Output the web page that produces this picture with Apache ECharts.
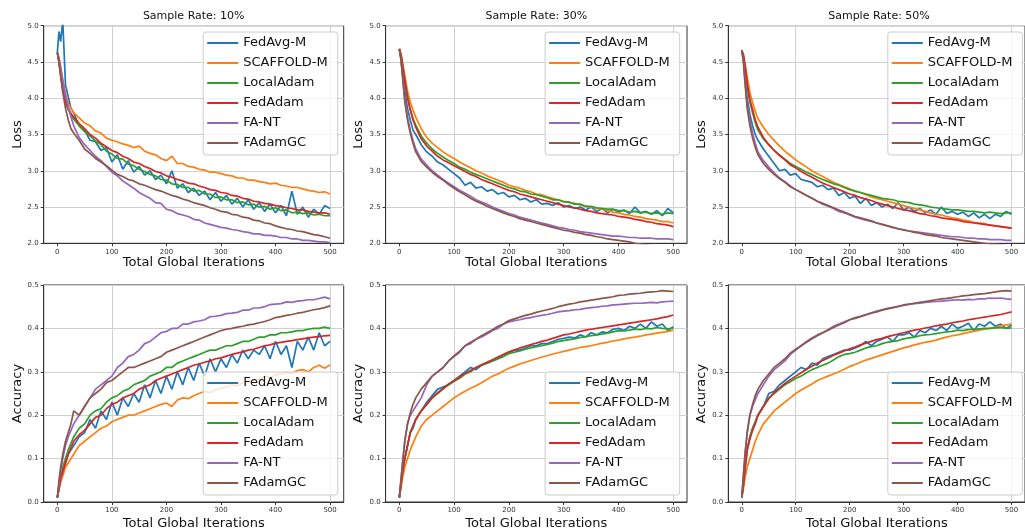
<!DOCTYPE html>
<html>
<head>
<meta charset="utf-8">
<script src="https://cdn.jsdelivr.net/npm/echarts@6/dist/echarts.min.js"></script>
<style>
  html, body { margin: 0; padding: 0; background: #fff; }
  #main { width: 1025px; height: 531px; }
</style>
</head>
<body>
<div id="main"></div>
<script>
// 数据: 迭代次数 (x) 及各算法曲线
var iterations = [0, 3, 6, 10, 15, 20, 25, 30, 40,
  50, 60, 70, 80, 90, 100,
  110, 120, 130, 140, 150, 160, 170, 180, 190, 200,
  210, 220, 230, 240, 250, 260, 270, 280, 290, 300,
  310, 320, 330, 340, 350, 360, 370, 380, 390, 400,
  410, 420, 430, 440, 450, 460, 470, 480, 490, 500];

var algoNames = ["FedAvg-M", "SCAFFOLD-M", "LocalAdam", "FedAdam", "FA-NT", "FAdamGC"];
var rateTitles = ["Sample Rate: 10%", "Sample Rate: 30%", "Sample Rate: 50%"];
var xTicks = [0, 100, 200, 300, 400, 500];

// ---- Loss, 10% ----
var loss10_fedavg = [4.63, 4.92, 4.78, 5.06, 4.18, 4.02, 3.86, 3.8, 3.62,
  3.56, 3.42, 3.4, 3.28, 3.32, 3.12,
  3.22, 3.02, 3.14, 2.98, 3.06, 2.94, 3.0, 2.88, 2.94, 2.82,
  3.0, 2.76, 2.82, 2.7, 2.76, 2.66, 2.72, 2.6, 2.7, 2.58,
  2.66, 2.54, 2.62, 2.5, 2.6, 2.47, 2.56, 2.44, 2.54, 2.42,
  2.52, 2.38, 2.72, 2.4, 2.5, 2.36, 2.47, 2.4, 2.52, 2.48];
var loss10_scaffold = [4.63, 4.56, 4.44, 4.26, 4.06, 3.93, 3.86, 3.8, 3.73,
  3.66, 3.62, 3.55, 3.52, 3.45, 3.42,
  3.4, 3.37, 3.35, 3.32, 3.34, 3.27, 3.24, 3.22, 3.17, 3.14,
  3.2, 3.1, 3.1, 3.06, 3.05, 3.02, 3.01, 2.98, 2.98, 2.96,
  2.94, 2.93, 2.9, 2.9, 2.87, 2.87, 2.85, 2.84, 2.82, 2.83,
  2.8, 2.79, 2.77, 2.77, 2.75, 2.73, 2.72, 2.7, 2.71, 2.68];
var loss10_local = [4.63, 4.5, 4.34, 4.12, 3.94, 3.84, 3.78, 3.71, 3.62,
  3.54, 3.48, 3.41, 3.36, 3.27, 3.23,
  3.17, 3.16, 3.09, 3.07, 3.02, 2.99, 2.95, 2.93, 2.88, 2.87,
  2.82, 2.81, 2.77, 2.77, 2.72, 2.73, 2.68, 2.68, 2.63, 2.64,
  2.6, 2.6, 2.56, 2.57, 2.53, 2.54, 2.5, 2.51, 2.47, 2.49,
  2.45, 2.46, 2.42, 2.43, 2.41, 2.42, 2.39, 2.4, 2.38, 2.38];
var loss10_fedadam = [4.63, 4.5, 4.34, 4.13, 3.95, 3.86, 3.79, 3.74, 3.65,
  3.58, 3.5, 3.45, 3.38, 3.33, 3.28,
  3.25, 3.2, 3.17, 3.12, 3.1, 3.06, 3.03, 2.99, 2.97, 2.93,
  2.91, 2.88, 2.86, 2.83, 2.82, 2.79, 2.77, 2.74, 2.73, 2.7,
  2.69, 2.66, 2.65, 2.62, 2.61, 2.58, 2.57, 2.55, 2.54, 2.52,
  2.51, 2.49, 2.48, 2.46, 2.46, 2.44, 2.43, 2.42, 2.42, 2.4];
var loss10_fant = [4.63, 4.55, 4.42, 4.24, 4.03, 3.88, 3.74, 3.62, 3.46,
  3.36, 3.28, 3.2, 3.14, 3.06, 2.98,
  2.93, 2.86, 2.81, 2.76, 2.7, 2.66, 2.62, 2.56, 2.55, 2.47,
  2.45, 2.41, 2.39, 2.37, 2.33, 2.32, 2.28, 2.26, 2.24, 2.22,
  2.21, 2.19, 2.18, 2.16, 2.15, 2.13, 2.13, 2.11, 2.11, 2.1,
  2.08, 2.08, 2.06, 2.06, 2.04, 2.04, 2.03, 2.02, 2.02, 2.01];
var loss10_fadamgc = [4.63, 4.5, 4.3, 4.08, 3.86, 3.7, 3.58, 3.52, 3.42,
  3.3, 3.24, 3.17, 3.12, 3.07, 3.01,
  2.95, 2.92, 2.88, 2.86, 2.82, 2.8, 2.77, 2.74, 2.72, 2.69,
  2.66, 2.64, 2.61, 2.59, 2.56, 2.54, 2.52, 2.49, 2.47, 2.44,
  2.43, 2.4, 2.39, 2.36, 2.35, 2.32, 2.31, 2.28, 2.27, 2.24,
  2.22, 2.2, 2.19, 2.17, 2.16, 2.14, 2.12, 2.11, 2.09, 2.07];

// ---- Loss, 30% ----
var loss30_fedavg = [4.68, 4.55, 4.35, 4.1, 3.86, 3.7, 3.56, 3.5, 3.36,
  3.26, 3.2, 3.12, 3.08, 3.02, 2.96,
  2.9, 2.8, 2.84, 2.76, 2.78, 2.72, 2.74, 2.68, 2.7, 2.64,
  2.66, 2.6, 2.62, 2.57, 2.6, 2.54, 2.55, 2.52, 2.56, 2.5,
  2.52, 2.48, 2.5, 2.46, 2.5, 2.44, 2.48, 2.42, 2.47, 2.43,
  2.46, 2.41, 2.5, 2.42, 2.44, 2.4, 2.45, 2.38, 2.48, 2.42];
var loss30_scaffold = [4.68, 4.62, 4.5, 4.32, 4.1, 3.95, 3.84, 3.74, 3.58,
  3.46, 3.38, 3.32, 3.26, 3.21, 3.17,
  3.12, 3.08, 3.04, 3.0, 2.97, 2.93, 2.9, 2.87, 2.84, 2.8,
  2.78, 2.76, 2.73, 2.71, 2.68, 2.67, 2.64, 2.62, 2.6, 2.58,
  2.56, 2.55, 2.53, 2.51, 2.5, 2.48, 2.47, 2.45, 2.43, 2.42,
  2.4, 2.39, 2.37, 2.36, 2.34, 2.33, 2.32, 2.3, 2.3, 2.28];
var loss30_local = [4.68, 4.6, 4.45, 4.25, 4.02, 3.85, 3.72, 3.63, 3.48,
  3.38, 3.3, 3.24, 3.19, 3.14, 3.1,
  3.05, 3.02, 2.98, 2.95, 2.92, 2.89, 2.86, 2.83, 2.8, 2.77,
  2.75, 2.72, 2.71, 2.68, 2.67, 2.65, 2.63, 2.6, 2.6, 2.57,
  2.57, 2.54, 2.54, 2.51, 2.51, 2.49, 2.48, 2.47, 2.47, 2.45,
  2.45, 2.43, 2.44, 2.42, 2.43, 2.41, 2.42, 2.4, 2.42, 2.41];
var loss30_fedadam = [4.68, 4.6, 4.45, 4.24, 4.0, 3.84, 3.7, 3.6, 3.44,
  3.34, 3.27, 3.2, 3.15, 3.11, 3.07,
  3.03, 2.99, 2.95, 2.92, 2.88, 2.85, 2.82, 2.79, 2.76, 2.73,
  2.71, 2.68, 2.66, 2.64, 2.62, 2.6, 2.58, 2.56, 2.54, 2.52,
  2.5, 2.49, 2.47, 2.45, 2.44, 2.42, 2.41, 2.4, 2.39, 2.37,
  2.36, 2.35, 2.33, 2.32, 2.3, 2.29, 2.27, 2.26, 2.25, 2.23];
var loss30_fant = [4.68, 4.55, 4.32, 4.0, 3.74, 3.56, 3.42, 3.3, 3.16,
  3.08, 3.0, 2.94, 2.88, 2.83, 2.78,
  2.73, 2.69, 2.65, 2.6, 2.57, 2.54, 2.5, 2.47, 2.44, 2.41,
  2.39, 2.36, 2.34, 2.32, 2.3, 2.28, 2.26, 2.24, 2.22, 2.21,
  2.19, 2.18, 2.16, 2.15, 2.14, 2.13, 2.12, 2.11, 2.1, 2.1,
  2.09, 2.08, 2.08, 2.07, 2.07, 2.07, 2.06, 2.06, 2.06, 2.05];
var loss30_fadamgc = [4.68, 4.53, 4.28, 3.95, 3.7, 3.52, 3.38, 3.26, 3.13,
  3.05, 2.98, 2.92, 2.87, 2.81, 2.76,
  2.71, 2.67, 2.62, 2.58, 2.55, 2.51, 2.48, 2.45, 2.42, 2.39,
  2.37, 2.34, 2.32, 2.3, 2.28, 2.26, 2.24, 2.22, 2.2, 2.18,
  2.17, 2.15, 2.14, 2.12, 2.11, 2.09, 2.08, 2.06, 2.05, 2.04,
  2.03, 2.02, 2.0, 1.99, 1.98, 1.97, 1.96, 1.95, 1.94, 1.93];

// ---- Loss, 50% ----
var loss50_fedavg = [4.66, 4.55, 4.3, 4.0, 3.78, 3.62, 3.5, 3.42, 3.3,
  3.2, 3.1, 3.0, 3.02, 2.94, 2.96,
  2.88, 2.86, 2.84, 2.78, 2.8, 2.74, 2.76, 2.66, 2.7, 2.62,
  2.65, 2.55, 2.62, 2.52, 2.56, 2.5, 2.54, 2.48, 2.56, 2.46,
  2.5, 2.44, 2.48, 2.42, 2.46, 2.4, 2.5, 2.41, 2.44, 2.4,
  2.43, 2.37, 2.42, 2.35, 2.4, 2.34, 2.4, 2.37, 2.44, 2.4];
var loss50_scaffold = [4.66, 4.6, 4.48, 4.3, 4.08, 3.94, 3.82, 3.72, 3.6,
  3.5, 3.42, 3.34, 3.27, 3.21, 3.15,
  3.1, 3.05, 3.0, 2.96, 2.92, 2.88, 2.84, 2.81, 2.78, 2.75,
  2.72, 2.7, 2.67, 2.64, 2.62, 2.6, 2.58, 2.56, 2.54, 2.52,
  2.5, 2.48, 2.46, 2.44, 2.42, 2.4, 2.39, 2.37, 2.35, 2.34,
  2.32, 2.31, 2.29, 2.28, 2.27, 2.25, 2.24, 2.23, 2.22, 2.21];
var loss50_local = [4.66, 4.58, 4.42, 4.15, 3.95, 3.8, 3.66, 3.56, 3.44,
  3.36, 3.28, 3.22, 3.16, 3.1, 3.06,
  3.02, 2.98, 2.95, 2.91, 2.88, 2.85, 2.82, 2.8, 2.77, 2.74,
  2.72, 2.7, 2.68, 2.66, 2.64, 2.62, 2.61, 2.6, 2.58, 2.57,
  2.56, 2.54, 2.53, 2.52, 2.5, 2.49, 2.48, 2.47, 2.46, 2.46,
  2.45, 2.44, 2.44, 2.43, 2.42, 2.43, 2.42, 2.41, 2.42, 2.42];
var loss50_fedadam = [4.66, 4.6, 4.45, 4.2, 3.98, 3.84, 3.7, 3.6, 3.46,
  3.36, 3.28, 3.21, 3.15, 3.08, 3.04,
  2.99, 2.95, 2.91, 2.87, 2.83, 2.8, 2.77, 2.74, 2.71, 2.68,
  2.66, 2.63, 2.61, 2.59, 2.56, 2.54, 2.52, 2.5, 2.48, 2.46,
  2.45, 2.43, 2.41, 2.4, 2.38, 2.37, 2.35, 2.34, 2.33, 2.32,
  2.3, 2.29, 2.28, 2.27, 2.26, 2.25, 2.24, 2.23, 2.22, 2.21];
var loss50_fant = [4.66, 4.52, 4.25, 3.92, 3.7, 3.52, 3.38, 3.26, 3.14,
  3.05, 2.97, 2.9, 2.85, 2.79, 2.74,
  2.7, 2.66, 2.62, 2.58, 2.54, 2.51, 2.48, 2.44, 2.42, 2.39,
  2.36, 2.34, 2.32, 2.3, 2.28, 2.26, 2.24, 2.22, 2.2, 2.19,
  2.17, 2.16, 2.15, 2.14, 2.13, 2.12, 2.11, 2.1, 2.09, 2.09,
  2.08, 2.07, 2.07, 2.06, 2.06, 2.05, 2.05, 2.05, 2.04, 2.04];
var loss50_fadamgc = [4.66, 4.5, 4.2, 3.86, 3.62, 3.45, 3.32, 3.22, 3.1,
  3.02, 2.95, 2.89, 2.84, 2.78, 2.74,
  2.7, 2.66, 2.62, 2.58, 2.55, 2.52, 2.49, 2.46, 2.43, 2.4,
  2.37, 2.35, 2.33, 2.31, 2.28, 2.26, 2.24, 2.22, 2.2, 2.18,
  2.17, 2.15, 2.14, 2.12, 2.11, 2.1, 2.08, 2.07, 2.06, 2.05,
  2.04, 2.03, 2.02, 2.01, 2.0, 1.99, 1.99, 1.98, 1.97, 1.96];

// ---- Accuracy, 10% ----
var acc10_fedavg = [0.01, 0.03, 0.05, 0.07, 0.09, 0.11, 0.12, 0.13, 0.15,
  0.16, 0.19, 0.17, 0.21, 0.19, 0.23,
  0.2, 0.24, 0.22, 0.25, 0.23, 0.27, 0.24, 0.28, 0.25, 0.29,
  0.26, 0.3, 0.27, 0.31, 0.28, 0.32, 0.29, 0.33, 0.3, 0.33,
  0.31, 0.34, 0.32, 0.35, 0.33, 0.35, 0.34, 0.36, 0.33, 0.37,
  0.34, 0.36, 0.31, 0.37, 0.35, 0.38, 0.35, 0.39, 0.36, 0.37];
var acc10_scaffold = [0.01, 0.03, 0.045, 0.06, 0.08, 0.09, 0.1, 0.11, 0.13,
  0.14, 0.15, 0.16, 0.17, 0.175, 0.185,
  0.19, 0.195, 0.2, 0.2, 0.205, 0.21, 0.215, 0.22, 0.225, 0.228,
  0.22, 0.235, 0.24, 0.238, 0.245, 0.25, 0.255, 0.252, 0.258, 0.262,
  0.265, 0.27, 0.268, 0.275, 0.277, 0.28, 0.283, 0.29, 0.286, 0.293,
  0.295, 0.298, 0.296, 0.303, 0.305, 0.3, 0.31, 0.315, 0.308, 0.316];
var acc10_local = [0.01, 0.035, 0.06, 0.08, 0.1, 0.12, 0.135, 0.15, 0.17,
  0.18, 0.2, 0.21, 0.215, 0.23, 0.24,
  0.245, 0.255, 0.26, 0.27, 0.275, 0.28, 0.29, 0.295, 0.3, 0.31,
  0.31, 0.32, 0.325, 0.33, 0.335, 0.34, 0.345, 0.35, 0.35, 0.355,
  0.36, 0.36, 0.365, 0.37, 0.37, 0.375, 0.38, 0.38, 0.385, 0.385,
  0.39, 0.39, 0.392, 0.395, 0.395, 0.398, 0.4, 0.4, 0.403, 0.4];
var acc10_fedadam = [0.01, 0.03, 0.055, 0.07, 0.09, 0.11, 0.125, 0.14, 0.155,
  0.165, 0.18, 0.195, 0.2, 0.215, 0.225,
  0.23, 0.24, 0.245, 0.25, 0.26, 0.265, 0.27, 0.28, 0.285, 0.29,
  0.295, 0.3, 0.305, 0.31, 0.315, 0.318, 0.322, 0.325, 0.33, 0.332,
  0.336, 0.34, 0.343, 0.346, 0.35, 0.352, 0.356, 0.36, 0.362, 0.366,
  0.368, 0.37, 0.372, 0.374, 0.376, 0.378, 0.38, 0.381, 0.383, 0.384];
var acc10_fant = [0.01, 0.04, 0.07, 0.1, 0.13, 0.15, 0.165, 0.18, 0.2,
  0.22, 0.24, 0.26, 0.27, 0.28, 0.29,
  0.31, 0.32, 0.335, 0.34, 0.35, 0.365, 0.37, 0.38, 0.39, 0.393,
  0.4, 0.4, 0.41, 0.41, 0.415, 0.417, 0.42, 0.427, 0.428, 0.43,
  0.434, 0.435, 0.437, 0.442, 0.442, 0.447, 0.447, 0.45, 0.455, 0.456,
  0.457, 0.461, 0.46, 0.463, 0.464, 0.466, 0.466, 0.469, 0.472, 0.468];
var acc10_fadamgc = [0.01, 0.05, 0.08, 0.11, 0.14, 0.16, 0.18, 0.21, 0.2,
  0.22, 0.24, 0.25, 0.26, 0.275, 0.28,
  0.29, 0.3, 0.31, 0.31, 0.315, 0.32, 0.325, 0.33, 0.335, 0.345,
  0.35, 0.355, 0.36, 0.365, 0.37, 0.375, 0.38, 0.385, 0.39, 0.395,
  0.398, 0.4, 0.403, 0.405, 0.408, 0.41, 0.413, 0.416, 0.42, 0.425,
  0.427, 0.43, 0.432, 0.435, 0.437, 0.44, 0.443, 0.445, 0.448, 0.452];

// ---- Accuracy, 30% ----
var acc30_fedavg = [0.01, 0.04, 0.07, 0.1, 0.13, 0.16, 0.17, 0.19, 0.21,
  0.23, 0.245, 0.26, 0.265, 0.27, 0.28,
  0.29, 0.3, 0.31, 0.305, 0.315, 0.32, 0.325, 0.33, 0.34, 0.345,
  0.35, 0.35, 0.355, 0.36, 0.36, 0.365, 0.365, 0.37, 0.375, 0.377,
  0.38, 0.378, 0.385, 0.38, 0.39, 0.385, 0.392, 0.39, 0.398, 0.4,
  0.395, 0.405, 0.4, 0.41, 0.4, 0.415, 0.405, 0.41, 0.395, 0.404];
var acc30_scaffold = [0.01, 0.03, 0.055, 0.08, 0.1, 0.12, 0.135, 0.15, 0.175,
  0.19, 0.2, 0.21, 0.22, 0.23, 0.24,
  0.248, 0.255, 0.262, 0.268, 0.275, 0.282, 0.29, 0.295, 0.302, 0.308,
  0.313, 0.318, 0.322, 0.326, 0.33, 0.334, 0.337, 0.341, 0.344, 0.347,
  0.35, 0.353, 0.356, 0.358, 0.36, 0.363, 0.366, 0.368, 0.371, 0.373,
  0.376, 0.378, 0.38, 0.382, 0.385, 0.387, 0.389, 0.391, 0.393, 0.396];
var acc30_local = [0.01, 0.04, 0.07, 0.1, 0.13, 0.16, 0.175, 0.19, 0.21,
  0.225, 0.24, 0.25, 0.26, 0.27, 0.278,
  0.285, 0.295, 0.3, 0.31, 0.315, 0.32, 0.325, 0.33, 0.335, 0.342,
  0.345, 0.348, 0.352, 0.355, 0.358, 0.36, 0.363, 0.366, 0.37, 0.372,
  0.374, 0.376, 0.379, 0.381, 0.383, 0.385, 0.387, 0.389, 0.392, 0.395,
  0.394, 0.396, 0.398, 0.397, 0.4, 0.399, 0.402, 0.4, 0.399, 0.401];
var acc30_fedadam = [0.01, 0.04, 0.07, 0.1, 0.13, 0.16, 0.175, 0.19, 0.21,
  0.225, 0.24, 0.252, 0.262, 0.272, 0.28,
  0.288, 0.296, 0.303, 0.31, 0.316, 0.322, 0.328, 0.334, 0.34, 0.346,
  0.35, 0.355, 0.359, 0.363, 0.366, 0.37, 0.373, 0.377, 0.381, 0.385,
  0.387, 0.39, 0.393, 0.396, 0.398, 0.4, 0.402, 0.404, 0.406, 0.408,
  0.41, 0.412, 0.414, 0.416, 0.418, 0.42, 0.422, 0.425, 0.427, 0.431];
var acc30_fant = [0.01, 0.05, 0.09, 0.14, 0.18, 0.2, 0.21, 0.22, 0.24,
  0.27, 0.29, 0.3, 0.31, 0.325, 0.335,
  0.345, 0.36, 0.365, 0.375, 0.38, 0.387, 0.395, 0.4, 0.41, 0.415,
  0.418, 0.42, 0.423, 0.425, 0.428, 0.43, 0.432, 0.435, 0.438, 0.44,
  0.441, 0.443, 0.444, 0.446, 0.448, 0.449, 0.451, 0.452, 0.454, 0.455,
  0.456, 0.457, 0.458, 0.458, 0.459, 0.46, 0.459, 0.461, 0.462, 0.463];
var acc30_fadamgc = [0.01, 0.05, 0.09, 0.14, 0.18, 0.205, 0.225, 0.24, 0.26,
  0.275, 0.29, 0.3, 0.31, 0.325, 0.337,
  0.347, 0.36, 0.368, 0.375, 0.383, 0.39, 0.397, 0.405, 0.41, 0.418,
  0.422, 0.426, 0.43, 0.433, 0.437, 0.44, 0.443, 0.446, 0.45, 0.453,
  0.456, 0.458, 0.461, 0.463, 0.465, 0.467, 0.469, 0.471, 0.473, 0.476,
  0.477, 0.479, 0.48, 0.481, 0.483, 0.484, 0.485, 0.487, 0.486, 0.485];

// ---- Accuracy, 50% ----
var acc50_fedavg = [0.01, 0.04, 0.08, 0.12, 0.15, 0.17, 0.185, 0.2, 0.22,
  0.25, 0.255, 0.27, 0.28, 0.29, 0.3,
  0.31, 0.305, 0.32, 0.315, 0.33, 0.335, 0.34, 0.345, 0.35, 0.35,
  0.355, 0.36, 0.37, 0.36, 0.37, 0.375, 0.38, 0.37, 0.385, 0.385,
  0.39, 0.38, 0.395, 0.39, 0.4, 0.395, 0.405, 0.395, 0.41, 0.4,
  0.405, 0.412, 0.395, 0.41, 0.405, 0.415, 0.405, 0.41, 0.4, 0.408];
var acc50_scaffold = [0.01, 0.03, 0.055, 0.08, 0.1, 0.12, 0.14, 0.155, 0.18,
  0.195, 0.21, 0.22, 0.23, 0.24, 0.25,
  0.258, 0.265, 0.272, 0.28, 0.285, 0.29, 0.295, 0.3, 0.306, 0.312,
  0.317, 0.322, 0.327, 0.331, 0.335, 0.339, 0.343, 0.347, 0.351, 0.355,
  0.358, 0.362, 0.365, 0.368, 0.37, 0.373, 0.377, 0.38, 0.383, 0.385,
  0.388, 0.391, 0.393, 0.396, 0.398, 0.4, 0.403, 0.406, 0.408, 0.41];
var acc50_local = [0.01, 0.04, 0.08, 0.12, 0.15, 0.17, 0.185, 0.2, 0.22,
  0.24, 0.25, 0.26, 0.27, 0.277, 0.285,
  0.29, 0.298, 0.305, 0.31, 0.315, 0.32, 0.327, 0.335, 0.34, 0.342,
  0.345, 0.35, 0.355, 0.358, 0.36, 0.365, 0.368, 0.37, 0.372, 0.376,
  0.378, 0.38, 0.383, 0.385, 0.386, 0.388, 0.39, 0.392, 0.393, 0.396,
  0.395, 0.397, 0.398, 0.399, 0.4, 0.4, 0.401, 0.402, 0.4, 0.401];
var acc50_fedadam = [0.01, 0.04, 0.075, 0.12, 0.145, 0.165, 0.18, 0.2, 0.22,
  0.238, 0.252, 0.263, 0.273, 0.282, 0.29,
  0.298, 0.306, 0.313, 0.32, 0.326, 0.332, 0.338, 0.343, 0.348, 0.353,
  0.357, 0.362, 0.366, 0.37, 0.374, 0.377, 0.381, 0.384, 0.387, 0.39,
  0.393, 0.396, 0.398, 0.401, 0.403, 0.406, 0.408, 0.41, 0.413, 0.415,
  0.417, 0.42, 0.422, 0.424, 0.426, 0.428, 0.43, 0.432, 0.435, 0.438];
var acc50_fant = [0.01, 0.06, 0.11, 0.16, 0.2, 0.22, 0.235, 0.25, 0.27,
  0.29, 0.305, 0.315, 0.325, 0.34, 0.35,
  0.36, 0.37, 0.378, 0.385, 0.39, 0.397, 0.405, 0.41, 0.415, 0.42,
  0.425, 0.428, 0.432, 0.436, 0.44, 0.443, 0.446, 0.448, 0.45, 0.453,
  0.455, 0.457, 0.458, 0.46, 0.461, 0.462, 0.463, 0.464, 0.465, 0.466,
  0.465, 0.467, 0.466, 0.468, 0.468, 0.47, 0.469, 0.47, 0.468, 0.467];
var acc50_fadamgc = [0.01, 0.06, 0.11, 0.16, 0.2, 0.225, 0.245, 0.26, 0.28,
  0.295, 0.31, 0.32, 0.33, 0.343, 0.352,
  0.36, 0.368, 0.376, 0.383, 0.39, 0.396, 0.402, 0.408, 0.413, 0.42,
  0.423, 0.427, 0.431, 0.435, 0.438, 0.442, 0.445, 0.448, 0.451, 0.454,
  0.456, 0.458, 0.46, 0.462, 0.464, 0.466, 0.468, 0.469, 0.471, 0.473,
  0.475, 0.476, 0.478, 0.479, 0.48, 0.482, 0.484, 0.486, 0.487, 0.486];

(function() {
  var chart = echarts.init(document.getElementById("main"));
  var colors = ["#1f77b4", "#ff7f0e", "#2ca02c", "#d62728", "#9467bd", "#8c564b"];
  var font = "DejaVu Sans";

  // 网格位置 (像素)
  var colLeft = [43.7, 385.6, 728.3];
  var colWidth = [300, 301.4, 301.4];
  var rowTop = [25.7, 285];
  var rowHeight = [217.6, 217.3];

  var panels = [
    [loss10_fedavg, loss10_scaffold, loss10_local, loss10_fedadam, loss10_fant, loss10_fadamgc],
    [loss30_fedavg, loss30_scaffold, loss30_local, loss30_fedadam, loss30_fant, loss30_fadamgc],
    [loss50_fedavg, loss50_scaffold, loss50_local, loss50_fedadam, loss50_fant, loss50_fadamgc],
    [acc10_fedavg, acc10_scaffold, acc10_local, acc10_fedadam, acc10_fant, acc10_fadamgc],
    [acc30_fedavg, acc30_scaffold, acc30_local, acc30_fedadam, acc30_fant, acc30_fadamgc],
    [acc50_fedavg, acc50_scaffold, acc50_local, acc50_fedadam, acc50_fant, acc50_fadamgc]
  ];

  var grids = [], xAxes = [], yAxes = [], legends = [], series = [], graphics = [];
  var gridColor = "#d0d0d0";
  var clear = "rgba(0,0,0,0)";

  for (var g = 0; g < 6; g++) {
    var r = Math.floor(g / 3), c = g % 3;
    var isLoss = r === 0;
    grids.push({
      left: colLeft[c], top: rowTop[r], width: colWidth[c], height: rowHeight[r],
      show: true, borderColor: "#333", borderWidth: 1, backgroundColor: clear
    });
    xAxes.push({
      gridIndex: g, type: "value", min: -25, max: 525, interval: 25,
      name: "Total Global Iterations", nameLocation: "middle", nameGap: isLoss ? 13 : 15,
      nameTextStyle: { fontSize: 13, color: "#111", fontFamily: font },
      axisLine: { show: true, onZero: false, lineStyle: { color: "#333", width: 1 } },
      axisTick: { show: true, length: 3, customValues: xTicks, lineStyle: { color: "#333" } },
      axisLabel: {
        customValues: xTicks, fontSize: 7, color: "#333", margin: 5, fontFamily: font,
        formatter: function(v) { return v % 100 === 0 && v >= 0 && v <= 500 ? String(v) : ""; }
      },
      splitLine: { show: true, lineStyle: { color: [clear, gridColor, clear, clear], width: 1 } }
    });
    yAxes.push({
      gridIndex: g, type: "value",
      min: isLoss ? 2 : 0, max: isLoss ? 5 : 0.5, interval: isLoss ? 0.5 : 0.1,
      name: isLoss ? "Loss" : "Accuracy", nameLocation: "middle", nameGap: 20, nameRotate: 90,
      nameTextStyle: { fontSize: 13, color: "#111", fontFamily: font },
      axisLine: { show: true, onZero: false, lineStyle: { color: "#333", width: 1 } },
      axisTick: { show: true, length: 3, lineStyle: { color: "#333" } },
      axisLabel: {
        fontSize: 7, color: "#333", margin: 5, fontFamily: font,
        formatter: function(v) { return v.toFixed(1); }
      },
      splitLine: { show: true, lineStyle: { color: gridColor, width: 1 } }
    });
    legends.push({
      orient: "vertical", left: colLeft[c] + 159.5, top: isLoss ? 32 : 372,
      data: algoNames, icon: "rect", itemWidth: 31, itemHeight: 2, itemGap: 6,
      selectedMode: false,
      padding: [4, 10, 5, 4],
      backgroundColor: "rgba(255,255,255,0.8)", borderColor: "#cccccc", borderWidth: 1, borderRadius: 3,
      textStyle: { fontSize: 13, lineHeight: 14, color: "#111", fontFamily: font }
    });
    for (var k = 0; k < 6; k++) {
      var vals = panels[g][k];
      series.push({
        name: algoNames[k], type: "line", xAxisIndex: g, yAxisIndex: g,
        data: iterations.map(function(x, i) { return [x, vals[i]]; }),
        showSymbol: false, symbol: "none", color: colors[k],
        lineStyle: { width: 1.7, color: colors[k] },
        silent: true, animation: false
      });
    }
  }

  for (var t = 0; t < 3; t++) {
    graphics.push({
      type: "text", x: colLeft[t] + colWidth[t] / 2, y: 16,
      style: { text: rateTitles[t], font: "11px 'DejaVu Sans'", fill: "#111", align: "center", verticalAlign: "middle" }
    });
  }

  var option = {
    backgroundColor: "#fff",
    animation: false,
    textStyle: { fontFamily: font },
    grid: grids,
    xAxis: xAxes,
    yAxis: yAxes,
    legend: legends,
    graphic: graphics,
    series: series
  };
  chart.setOption(option);
})();
</script>
</body>
</html>
